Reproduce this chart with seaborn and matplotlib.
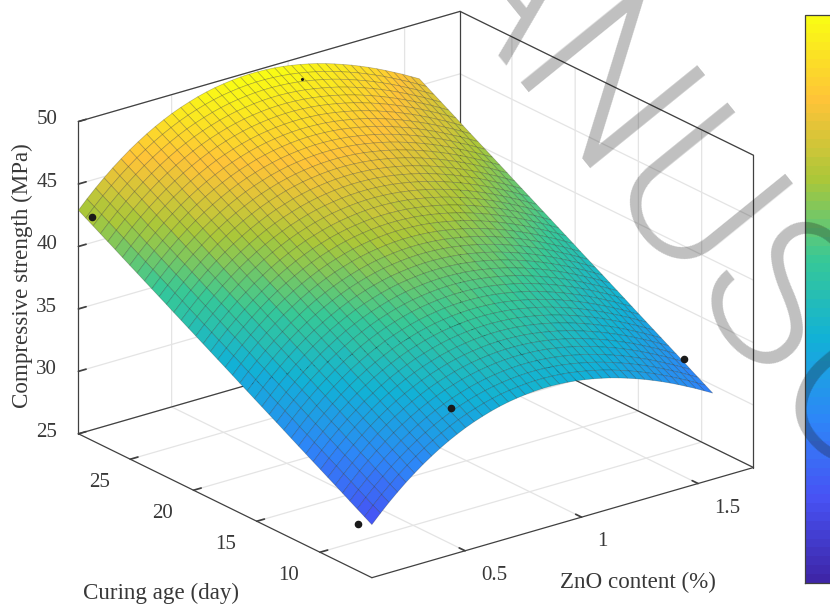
# response surface of compressive strength against ZnO content and curing age
import numpy as np
import matplotlib
matplotlib.use("Agg")
import matplotlib.pyplot as plt
from matplotlib.cm import ScalarMappable
from matplotlib.colors import ListedColormap, Normalize
import seaborn as sns

# strength along the youngest-age edge of the surface
zno_content = [0.1000, 0.1366, 0.1732, 0.2097, 0.2463, 0.2829, 0.3195, 0.3560, 0.3926, 0.4292, 0.4658,
               0.5023, 0.5389, 0.5755, 0.6121, 0.6486, 0.6852, 0.7218, 0.7584, 0.7949, 0.8315,
               0.8681, 0.9047, 0.9412, 0.9778, 1.0144, 1.0510, 1.0875, 1.1241, 1.1607, 1.1973,
               1.2338, 1.2704, 1.3070, 1.3436, 1.3801, 1.4167, 1.4533, 1.4899, 1.5264, 1.5630]
strength_at_min_age = [29.25, 29.96, 30.63, 31.25, 31.84, 32.38, 32.89, 33.35, 33.78, 34.17, 34.52,
                       34.84, 35.12, 35.36, 35.58, 35.76, 35.91, 36.02, 36.11, 36.17, 36.20,
                       36.20, 36.17, 36.12, 36.04, 35.93, 35.80, 35.65, 35.48, 35.28, 35.06,
                       34.82, 34.57, 34.29, 34.00, 33.69, 33.36, 33.01, 32.66, 32.28, 31.90]

# strength gained along the curing age direction
curing_age = [5.90, 6.48, 7.06, 7.64, 8.22, 8.80, 9.38, 9.96, 10.54, 11.12, 11.70,
              12.28, 12.86, 13.44, 14.02, 14.60, 15.18, 15.76, 16.34, 16.92, 17.50,
              18.08, 18.66, 19.24, 19.82, 20.40, 20.98, 21.56, 22.14, 22.72, 23.30,
              23.88, 24.46, 25.04, 25.62, 26.20, 26.78, 27.36, 27.94, 28.52, 29.10]
age_gain = [0.00, 0.34, 0.68, 1.02, 1.37, 1.71, 2.05, 2.39, 2.73, 3.07, 3.41,
            3.75, 4.10, 4.44, 4.78, 5.12, 5.46, 5.80, 6.14, 6.49, 6.83,
            7.17, 7.51, 7.85, 8.19, 8.53, 8.87, 9.21, 9.56, 9.90, 10.24,
            10.58, 10.92, 11.26, 11.60, 11.95, 12.29, 12.63, 12.97, 13.31, 13.65]

# measured points
point_zno = [0.1, 0.1, 0.5, 1.5]
point_age = [28, 7, 7, 7]
point_strength = [42.87, 28.73, 35.85, 34.41]
# this one sits almost completely behind the surface
hidden_zno = [1.0]
hidden_age = [28]
hidden_strength = [49.1]

x_limits = (0.1, 1.738)
y_limits = (5.9, 29.1)
z_limits = (25, 50)
color_limits = (25.83, 49.85)

x_ticks = [0.5, 1, 1.5]
x_tick_labels = ["0.5", "1", "1.5"]
y_ticks = [10, 15, 20, 25]
z_ticks = [25, 30, 35, 40, 45, 50]
colorbar_ticks = [30, 35, 40, 45]

# parula, sampled at 8 even steps and blended to 64 levels
parula_steps = [(0.2422, 0.1504, 0.6603), (0.2810, 0.3228, 0.9579), (0.1786, 0.5289, 0.9682),
                (0.0689, 0.6948, 0.8394), (0.2161, 0.7843, 0.5923), (0.6720, 0.7793, 0.2227),
                (0.9970, 0.7659, 0.2199), (0.9769, 0.9839, 0.0805)]

TEXT_COLOR = "#383838"
LINE_COLOR = "#404040"
GRID_COLOR = "#e4e4e4"

sns.set_theme(style="ticks")
plt.rcParams["font.family"] = ["Liberation Serif", "DejaVu Serif"]

parula = ListedColormap(sns.blend_palette(parula_steps, n_colors=64))

W, H = 830, 608
fig = plt.figure(figsize=(W / 100, H / 100), dpi=100)
fig.patch.set_facecolor("white")

# square axes worked out so that the 3d box lands on the same pixels
size = 737.6
ax = fig.add_axes([37.2 / W, -65.3 / H, size / W, size / H], projection="3d")
ax.set_proj_type("ortho")
ax.view_init(elev=22.1, azim=-127.5)
ax.set_box_aspect((481, 482, 337))
ax.set_xlim(*x_limits, view_margin=0)
ax.set_ylim(*y_limits, view_margin=0)
ax.set_zlim(*z_limits, view_margin=0)
ax.computed_zorder = False
ax.patch.set_alpha(0)

for axis in [ax.xaxis, ax.yaxis, ax.zaxis]:
    axis.set_pane_color((1, 1, 1, 0))
    axis.pane.set_edgecolor((1, 1, 1, 0))
    axis.line.set_color((1, 1, 1, 0))
    axis._axinfo["grid"]["color"] = GRID_COLOR
    axis._axinfo["grid"]["linewidth"] = 0.9
    axis._axinfo["tick"]["inward_factor"] = 0.0
    axis._axinfo["tick"]["outward_factor"] = 0.25
ax.grid(True)

ax.set_xticks(x_ticks, x_tick_labels)
ax.set_yticks(y_ticks)
ax.set_zticks(z_ticks)
for name, pad in [("x", 7), ("y", 7), ("z", 5)]:
    ax.tick_params(axis=name, pad=pad, labelsize=15, labelcolor=TEXT_COLOR, color=LINE_COLOR)
for tick in ax.xaxis.get_major_ticks():
    tick.label1.set_ha("left")
    tick.label1.set_va("center")
for tick in ax.yaxis.get_major_ticks():
    tick.label1.set_ha("right")
    tick.label1.set_va("center")
for tick in ax.zaxis.get_major_ticks():
    tick.label1.set_va("center")

# box edges, matlab style (all but the two nearest top ones and the front one)
x0, x1 = x_limits
y0, y1 = y_limits
z0, z1 = z_limits
box_edges = [((x0, x1), (y0, y0), (z0, z0)), ((x0, x0), (y0, y1), (z0, z0)),
             ((x1, x1), (y0, y1), (z0, z0)), ((x0, x1), (y1, y1), (z0, z0)),
             ((x0, x0), (y1, y1), (z0, z1)), ((x1, x1), (y0, y0), (z0, z1)),
             ((x1, x1), (y1, y1), (z0, z1)), ((x0, x1), (y1, y1), (z1, z1)),
             ((x1, x1), (y0, y1), (z1, z1))]
for ex, ey, ez in box_edges:
    ax.plot(ex, ey, ez, color=LINE_COLOR, lw=0.9, zorder=1)

ax.scatter(hidden_zno, hidden_age, hidden_strength, color="k", s=1.5, depthshade=False, zorder=3)

X, Y = np.meshgrid(zno_content, curing_age, indexing="ij")
Z = np.add.outer(strength_at_min_age, age_gain)
ax.plot_surface(X, Y, Z, cmap=parula, vmin=color_limits[0], vmax=color_limits[1],
                rstride=1, cstride=1, shade=False, antialiased=True,
                edgecolor=(0, 0, 0, 0.25), linewidth=0.5, zorder=2)

ax.scatter(point_zno, point_age, point_strength, color="k", s=20, depthshade=False, zorder=4)

fig.text(22 / W, 1 - 276 / H, "Compressive strength (MPa)", rotation=90, ha="center", va="center",
         fontsize=16.6, color=TEXT_COLOR)
fig.text(161 / W, 1 - 593 / H, "Curing age (day)", ha="center", va="center",
         fontsize=16.6, color=TEXT_COLOR)
fig.text(638 / W, 1 - 582 / H, "ZnO content (%)", ha="center", va="center",
         fontsize=16.6, color=TEXT_COLOR)

# colorbar runs off the right edge of the picture, so its labels are not visible
cax = fig.add_axes([805 / W, 1 - 583 / H, 29 / W, 568 / H])
cbar = fig.colorbar(ScalarMappable(Normalize(*color_limits), cmap=parula), cax=cax, ticks=colorbar_ticks)
cbar.ax.tick_params(direction="in", length=5, width=0.8, color=LINE_COLOR, labelright=False)
cbar.outline.set_edgecolor(LINE_COLOR)
cbar.outline.set_linewidth(0.9)

# watermark, black with alpha darkens whatever is under it
fig.text(306 / W, 1 + 159 / H, "MANUSCRIPT", family="Roboto", weight=300, fontsize=150,
         rotation=-51, rotation_mode="anchor", ha="left", va="baseline",
         color="k", alpha=0.28, zorder=20)

fig.savefig("out.png", dpi=100)
